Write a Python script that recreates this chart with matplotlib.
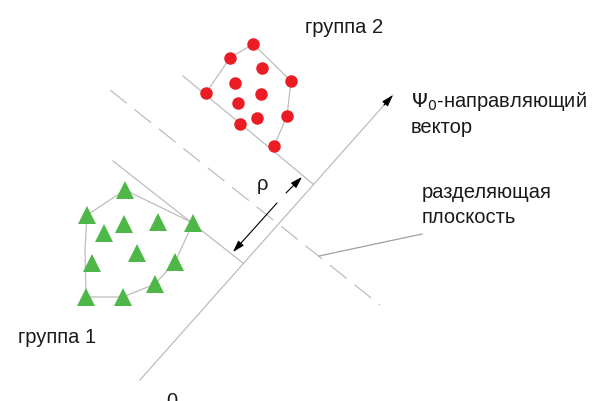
import numpy as np
import matplotlib.pyplot as plt

plt.rcParams['font.family'] = ['Liberation Sans', 'DejaVu Sans']

# group 2 (red circles), pixel-like diagram coordinates
g2_x = [253, 230, 262, 291, 235, 206, 261, 238, 287, 257, 240, 274]
g2_y = [44, 58, 68, 81, 83, 93, 94, 103, 116, 118, 124, 146]
g2_hull_x = [206, 230, 253, 291, 287, 274]
g2_hull_y = [93, 58, 44, 81, 116, 146]

# group 1 (green triangles)
g1_x = [125, 87, 124, 158, 193, 104, 137, 92, 175, 155, 86, 123]
g1_y = [190, 215, 224, 222, 223, 233, 253, 263, 262, 284, 297, 297]
g1_hull_x = [193, 125, 87, 85, 86, 123, 155, 175, 193]
g1_hull_y = [223, 190, 215, 250, 297, 297, 284, 262, 223]

# guide lines
upper_support = ([183, 313], [76, 184])
lower_support = ([113, 243], [161, 263])
vector_line = ([140, 393], [380, 95])
plane_line = ([110, 380], [90, 305])
leader_line = ([319, 422], [256, 234])
rho_top = ([286, 302], [193, 177])
rho_bottom = ([277, 233], [203, 252])

gray = '#bdbdbd'
red = '#ec1c24'
green = '#4db848'
txt = '#1a1a1a'

fig = plt.figure(figsize=(5.92, 4.01), dpi=100)
ax = fig.add_axes([0, 0, 1, 1])
ax.set_xlim(0, 592)
ax.set_ylim(401, 0)
ax.axis('off')

lw = 0.9
ax.plot(*upper_support, color=gray, lw=lw)
ax.plot(*lower_support, color=gray, lw=lw)
ax.plot(*vector_line, color=gray, lw=lw)
ax.plot(*plane_line, color=gray, lw=lw, dashes=(17, 8))
ax.plot(*leader_line, color='#a0a0a0', lw=lw)
ax.plot(g2_hull_x, g2_hull_y, color=gray, lw=lw)
ax.plot(g1_hull_x, g1_hull_y, color=gray, lw=lw)

# arrow head on the direction vector
ax.annotate('', xy=(vector_line[0][1], vector_line[1][1]),
            xytext=(vector_line[0][1] - 9, vector_line[1][1] + 10.1),
            arrowprops=dict(arrowstyle='-|>,head_length=0.7,head_width=0.22',
                            color='black', lw=0.8, shrinkA=0, shrinkB=0))

# rho double arrow
for seg in (rho_top, rho_bottom):
    ax.annotate('', xy=(seg[0][1], seg[1][1]), xytext=(seg[0][0], seg[1][0]),
                arrowprops=dict(arrowstyle='-|>,head_length=0.7,head_width=0.22',
                                color='black', lw=0.8, shrinkA=0, shrinkB=0))

ax.plot(g2_x, g2_y, 'o', color=red, markersize=9, markeredgewidth=0)
ax.plot(g1_x, g1_y, '^', color=green, markersize=13, markeredgewidth=0)

fs = 14.5
ax.text(305, 33, 'группа 2', fontsize=fs, color=txt, va='baseline')
ax.text(18, 343, 'группа 1', fontsize=fs, color=txt, va='baseline')
ax.text(411, 107, r'$\Psi_0$' + '-направляющий', fontsize=fs, color=txt, va='baseline')
ax.text(411, 133, 'вектор', fontsize=fs, color=txt, va='baseline')
ax.text(422, 198, 'разделяющая', fontsize=fs, color=txt, va='baseline')
ax.text(422, 223, 'плоскость', fontsize=fs, color=txt, va='baseline')
ax.text(262, 190, 'ρ', fontsize=fs, color=txt, va='baseline', ha='center')
ax.text(172, 392, '0', fontsize=fs, color=txt, va='top', ha='center')

fig.savefig('out.png', dpi=100)
